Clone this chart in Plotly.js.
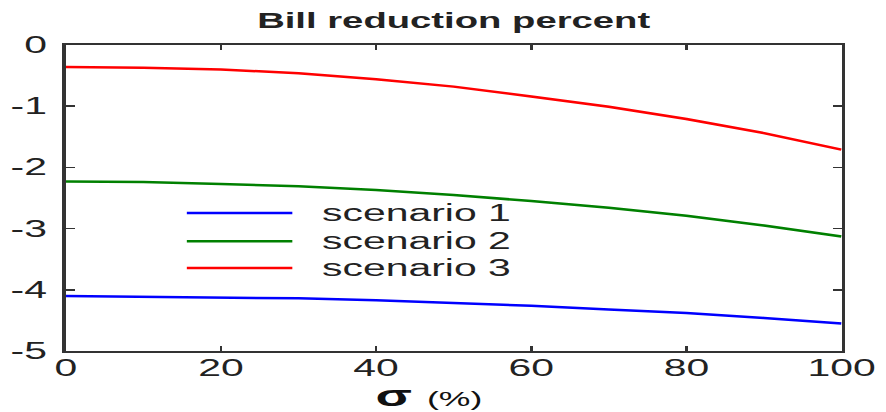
<!DOCTYPE html>
<html>
<head>
<meta charset="utf-8">
<script src="https://cdn.plot.ly/plotly-3.0.1.min.js"></script>
<style>
html,body{margin:0;padding:0;background:#fff;}
#wrap{width:886px;height:412px;overflow:hidden;}
#chart{width:498px;height:412px;transform:scaleX(1.7791);transform-origin:0 0;}
</style>
</head>
<body>
<div id="wrap"><div id="chart"></div></div>
<script>
// sigma (%)
const sigma = [0, 10, 20, 30, 40, 50, 60, 70, 80, 90, 100];
const seriesNames = ["scenario 1", "scenario 2", "scenario 3"];
const scenario1 = [-4.10, -4.11, -4.12, -4.14, -4.17, -4.21, -4.26, -4.32, -4.38, -4.46, -4.55];
const scenario2 = [-2.23, -2.24, -2.27, -2.31, -2.37, -2.45, -2.55, -2.66, -2.79, -2.95, -3.13];
const scenario3 = [-0.36, -0.37, -0.40, -0.46, -0.56, -0.68, -0.84, -1.01, -1.21, -1.44, -1.71];
const xTicks = [0, 20, 40, 60, 80, 100];
const yTicks = [-5, -4, -3, -2, -1, 0];
const colors = ["#0000ff", "#008000", "#ff0000"];

const seriesValues = [scenario1, scenario2, scenario3];
const traces = seriesValues.map((vals, i) => ({
  x: sigma, y: vals, type: "scatter", mode: "lines", name: seriesNames[i],
  line: {color: colors[i], width: 2.5}, showlegend: false
}));

// custom legend (long line samples as in the reference)
const legRowsY = [0.451, 0.359, 0.271];
const shapes = [];
const annotations = [];
seriesNames.forEach((nm, i) => {
  shapes.push({type: "line", xref: "paper", yref: "paper", x0: 0.156, x1: 0.292,
    y0: legRowsY[i], y1: legRowsY[i], line: {color: colors[i], width: 2.5}});
  annotations.push({xref: "paper", yref: "paper", x: 0.326, y: legRowsY[i],
    xanchor: "left", yanchor: "middle", showarrow: false, text: nm,
    font: {family: "Liberation Sans, Arial, sans-serif", size: 23, color: "#222"}});
});

const axisCommon = {
  showline: true, linecolor: "#333", linewidth: 2, mirror: "ticks",
  ticks: "inside", ticklen: 5, tickwidth: 1.5, tickcolor: "#333",
  showgrid: false, zeroline: false,
  tickfont: {family: "Liberation Sans, Arial, sans-serif", size: 23, color: "#222"}
};

const layout = {
  width: 498, height: 412,
  margin: {l: 37, r: 25, t: 45, b: 61},
  paper_bgcolor: "#fff", plot_bgcolor: "#fff",
  title: {text: "<b>Bill reduction percent</b>", x: 0.5, xref: "paper",
    y: 0.95, yref: "container", yanchor: "middle",
    font: {family: "Liberation Sans, Arial, sans-serif", size: 21.5, color: "#222"}},
  xaxis: Object.assign({}, axisCommon, {range: [0, 100], tickvals: xTicks,
    ticktext: xTicks.map(String), ticklabelstandoff: -5,
    title: {text: "<b>σ</b> <span style='font-size:20px'>(%)</span><span style='font-size:20px'>&nbsp;&nbsp;&nbsp;&nbsp;&nbsp;</span>", standoff: 0,
      font: {family: "Liberation Sans, Arial, sans-serif", size: 30, color: "#111"}}}),
  yaxis: Object.assign({}, axisCommon, {range: [-5, 0], tickvals: yTicks,
    ticktext: yTicks.map(String), ticklabelstandoff: 4}),
  shapes: shapes, annotations: annotations
};

Plotly.newPlot("chart", traces, layout, {staticPlot: true, displayModeBar: false});
</script>
</body>
</html>
